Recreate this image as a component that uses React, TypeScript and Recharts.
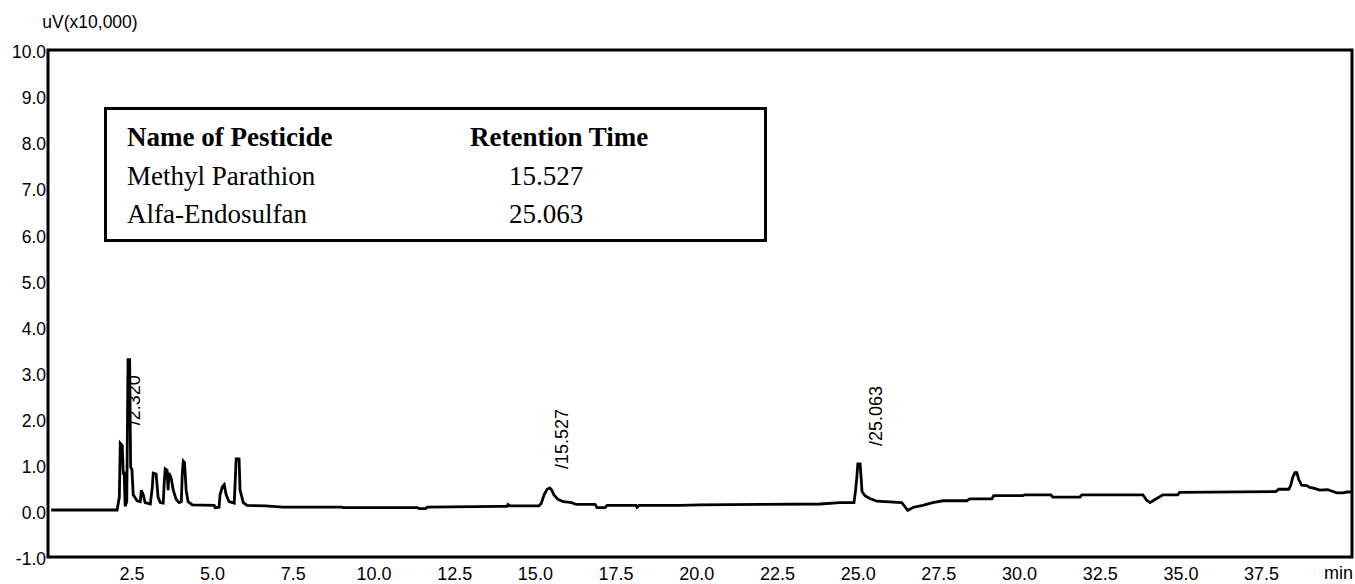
import { LineChart, Line, XAxis, YAxis, ReferenceArea, ReferenceDot } from 'recharts'

const SANS = '"Liberation Sans", Arial, sans-serif'
const SERIF = '"Liberation Serif", "Times New Roman", serif'

// solvent front + early peaks (0 – 7 min)
const frontTime = [0, 1.52, 2.04, 2.11, 2.14, 2.2, 2.23, 2.26, 2.29, 2.34, 2.38, 2.43, 2.46, 2.5, 2.54, 2.66, 2.76, 2.79, 2.85, 2.91, 3.07, 3.13, 3.16, 3.25, 3.31, 3.38, 3.47, 3.5, 3.53, 3.59, 3.62, 3.65, 3.72, 3.78, 3.87, 3.96, 4.03, 4.06, 4.09, 4.13, 4.18, 4.24, 4.37, 5.05, 5.08, 5.2, 5.23, 5.3, 5.36, 5.42, 5.51, 5.67, 5.73, 5.82, 5.85, 5.95, 6.07, 6.63]
const frontSignal = [0.02, 0.02, 0.02, 0.3, 1.47, 1.42, 0.82, 0.82, 0.1, 0.2, 3.28, 3.28, 0.95, 0.9, 0.35, 0.22, 0.2, 0.45, 0.35, 0.18, 0.15, 0.5, 0.82, 0.8, 0.3, 0.18, 0.17, 0.6, 0.91, 0.88, 0.45, 0.82, 0.7, 0.45, 0.25, 0.18, 0.2, 0.8, 1.08, 1.05, 0.45, 0.2, 0.13, 0.12, 0.07, 0.08, 0.35, 0.52, 0.57, 0.35, 0.2, 0.17, 1.13, 1.13, 0.45, 0.18, 0.12, 0.11]

// methyl parathion region
const mpTime = [7.18, 9.0, 9.05, 11.35, 11.4, 11.6, 11.65, 13.9, 14.12, 14.15, 14.21, 15.11, 15.18, 15.27, 15.36, 15.45, 15.51, 15.57, 15.7, 15.86, 16.01, 16.13, 16.26, 16.85, 16.91, 17.16, 17.22, 18.12, 18.15, 18.21, 19.48]
const mpSignal = [0.08, 0.08, 0.07, 0.07, 0.05, 0.05, 0.08, 0.1, 0.1, 0.14, 0.11, 0.11, 0.16, 0.35, 0.47, 0.5, 0.45, 0.35, 0.25, 0.2, 0.19, 0.18, 0.14, 0.14, 0.07, 0.07, 0.12, 0.12, 0.08, 0.12, 0.12]

// alfa-endosulfan region
const endoTime = [20.1, 21.96, 23.82, 24.43, 24.87, 24.92, 24.96, 24.99, 25.06, 25.09, 25.12, 25.21, 25.36, 25.58, 26.35, 26.45, 26.54, 26.66, 26.72, 27.0, 27.31, 27.62, 28.37, 28.46]
const endoSignal = [0.13, 0.14, 0.15, 0.18, 0.18, 0.45, 0.74, 1.02, 1.02, 0.74, 0.42, 0.33, 0.27, 0.21, 0.18, 0.09, 0.01, 0.06, 0.08, 0.12, 0.18, 0.22, 0.22, 0.26]

// late baseline
const tailTime = [29.14, 29.2, 30.1, 30.16, 30.97, 31.03, 31.87, 31.93, 33.82, 33.94, 34.04, 34.25, 34.44, 34.9, 34.96, 37.94, 38.03, 38.34, 38.4, 38.46, 38.53, 38.59, 38.65, 38.74, 38.9, 38.99, 39.14, 39.3, 39.55, 39.71, 39.83, 40.01, 40.14, 40.29]
const tailSignal = [0.26, 0.33, 0.33, 0.35, 0.35, 0.3, 0.3, 0.35, 0.35, 0.23, 0.18, 0.27, 0.35, 0.35, 0.4, 0.42, 0.47, 0.47, 0.55, 0.72, 0.83, 0.83, 0.68, 0.56, 0.55, 0.51, 0.49, 0.45, 0.46, 0.42, 0.39, 0.39, 0.41, 0.41]

const xTicks = [2.5, 5, 7.5, 10, 12.5, 15, 17.5, 20, 22.5, 25, 27.5, 30, 32.5, 35, 37.5]
const yTicks = [-1, 0, 1, 2, 3, 4, 5, 6, 7, 8, 9, 10]

// peak annotations: where the rotated text starts
const peakText = ['/2.320', '/15.527', '/25.063']
const peakTextTime = [2.76, 16.01, 25.74]
const peakTextHeight = [1.86, 0.91, 1.41]

const pesticideNames = ['Methyl Parathion', 'Alfa-Endosulfan']
const pesticideRt = ['15.527', '25.063']

const data = [
  ...frontTime.map((t, i) => ({ t, v: frontSignal[i] })),
  ...mpTime.map((t, i) => ({ t, v: mpSignal[i] })),
  ...endoTime.map((t, i) => ({ t, v: endoSignal[i] })),
  ...tailTime.map((t, i) => ({ t, v: tailSignal[i] })),
]

const rotatedLabel = (text: string) => (props: any) => (
  <text
    x={props.cx}
    y={props.cy}
    transform={`rotate(-90 ${props.cx} ${props.cy})`}
    fontSize={18}
    fontFamily={SANS}
    fill="#000"
  >
    {text}
  </text>
)

export default function App() {
  return (
    <div style={{ position: 'absolute', left: 0, top: 0, width: 1355, height: 584, background: '#fff' }}>
      <LineChart width={1355} height={584} data={data} margin={{ top: 50, right: 3, bottom: 3, left: 8 }}>
        <XAxis
          type="number"
          dataKey="t"
          domain={[-0.1, 40.3]}
          ticks={xTicks}
          tickFormatter={v => Number(v).toFixed(1)}
          axisLine={false}
          tickLine={false}
          tickSize={0}
          tickMargin={10}
          height={24}
          allowDataOverflow
          tick={{ fontSize: 18, fill: '#000', fontFamily: SANS }}
          label={{ value: 'min', position: 'insideRight', offset: -1, dy: 4, fill: '#000', fontSize: 18, fontFamily: SANS }}
        />
        <YAxis
          type="number"
          domain={[-1, 10]}
          ticks={yTicks}
          tickFormatter={v => Number(v).toFixed(1)}
          axisLine={false}
          tickLine={false}
          tickSize={0}
          tickMargin={2}
          width={40}
          allowDataOverflow
          tick={{ fontSize: 17.5, fill: '#000', fontFamily: SANS, dy: 2 }}
          label={{ value: 'uV(x10,000)', position: 'top', offset: 22, dx: 62, fill: '#000', fontSize: 17.5, fontFamily: SANS }}
        />
        <ReferenceArea x1={-0.1} x2={40.3} y1={-1} y2={10} fill="none" stroke="#000" strokeWidth={3} fillOpacity={0} />
        <Line type="linear" dataKey="v" stroke="#000" strokeWidth={2.8} dot={false} isAnimationActive={false} />
        {peakText.map((txt, i) => (
          <ReferenceDot
            key={txt}
            x={peakTextTime[i]}
            y={peakTextHeight[i]}
            r={1}
            shape={rotatedLabel(txt)}
          />
        ))}
      </LineChart>
      <svg width={1355} height={584} style={{ position: 'absolute', left: 0, top: 0, pointerEvents: 'none' }}>
        <rect x={105.5} y={108.5} width={660} height={132} fill="#fff" stroke="#000" strokeWidth={3} />
        <text x={127} y={146} fontFamily={SERIF} fontSize={27} fontWeight="bold" fill="#000">Name of Pesticide</text>
        <text x={470} y={146} fontFamily={SERIF} fontSize={27} fontWeight="bold" fill="#000">Retention Time</text>
        {pesticideNames.map((name, i) => (
          <g key={name}>
            <text x={127} y={185 + i * 38} fontFamily={SERIF} fontSize={27} fill="#000">{name}</text>
            <text x={546} y={185 + i * 38} textAnchor="middle" fontFamily={SERIF} fontSize={27} fill="#000">{pesticideRt[i]}</text>
          </g>
        ))}
      </svg>
    </div>
  )
}
